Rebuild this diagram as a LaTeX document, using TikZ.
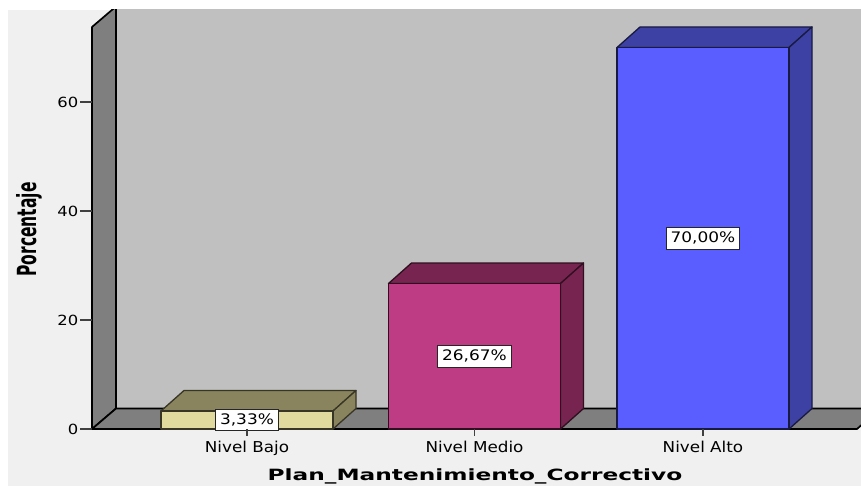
\documentclass[tikz,border=0pt]{standalone}
\usepackage{fontspec}
\setmainfont{DejaVu Sans}
\newfontfamily\lblfont[FakeStretch=1.17]{DejaVu Sans}
\newfontfamily\catfont[FakeStretch=1.12]{DejaVu Sans}
\newfontfamily\ttlfont[FakeStretch=1.5]{DejaVu Sans}
\newfontfamily\yfont{DejaVu Sans}

\definecolor{bgc}{HTML}{F0F0F0}
\definecolor{wallback}{HTML}{C0C0C0}
\definecolor{wallside}{HTML}{7F7F7F}
\definecolor{bajoF}{HTML}{E0DA9E}
\definecolor{bajoD}{HTML}{8A845E}
\definecolor{medioF}{HTML}{BD3C83}
\definecolor{medioD}{HTML}{772550}
\definecolor{altoF}{HTML}{5B5EFF}
\definecolor{altoD}{HTML}{3D41A3}
\definecolor{axisc}{HTML}{404040}

\tikzset{
  wallpart/.style={fill=wallside, draw=black, line width=1.7pt, line join=round},
  valbox/.style={fill=white, draw=black!85, line width=0.8pt, inner xsep=4.5pt,
    inner ysep=0pt, minimum height=21.5pt,
    font=\lblfont\fontsize{14.5}{16}\selectfont},
  ticklbl/.style={anchor=east, inner sep=0pt, text=black,
    font=\lblfont\fontsize{14}{16}\selectfont},
  catlbl/.style={anchor=base, inner sep=0pt, text=black,
    font=\catfont\fontsize{15}{17}\selectfont},
  tickline/.style={draw=axisc, line width=1.3pt},
}

% one 3-D column: centre x, top y, front colour, shade colour, label node name, label
\newcommand\chartcolumn[6]{%
  \pgfmathsetmacro\xl{#1-86}%
  \pgfmathsetmacro\xr{#1+86}%
  \filldraw[fill=#4, draw=#4!40!black, line width=1.3pt, line join=round]
    (\xl,#2) -- ++(23,-20.5) -- (\xr+23,#2-20.5) -- (\xr,#2) -- cycle;
  \filldraw[fill=#4, draw=#4!40!black, line width=1.3pt, line join=round]
    (\xr,#2) -- (\xr+23,#2-20.5) -- (\xr+23,408.5) -- (\xr,429) -- cycle;
  \filldraw[fill=#3, draw=#4!40!black, line width=1.3pt, line join=round]
    (\xl,#2) rectangle (\xr,429);
  \node[valbox] (#5) at (#1,{(#2+429)/2}) {#6};
}

\begin{document}
\begin{tikzpicture}[x=1pt,y=-1pt]
  \useasboundingbox (0,0) rectangle (861,486);
  \fill[white] (0,0) rectangle (861,486);
  \fill[bgc] (8,10) rectangle (861,486);

  \begin{scope}
    \clip (8,10) rectangle (861,486);
    % back wall
    \fill[wallback] (116,0) rectangle (870,408.5);
    % left wall and floor
    \filldraw[wallpart] (92,429) -- (92,27) -- (116,6.5) -- (116,408.5) -- cycle;
    \filldraw[wallpart] (92,429) -- (857,429) -- (880,408.5) -- (116,408.5) -- cycle;
  \end{scope}

  % value axis
  \foreach \v/\yy in {0/429,20/320,40/211,60/102}{
    \draw[tickline] (80,\yy) -- (92,\yy);
    \node[ticklbl] (tick\v) at (78.5,\yy) {\v};
  }

  % columns
  \chartcolumn{247}{411}{bajoF}{bajoD}{vbajo}{3,33\%}
  \chartcolumn{474.5}{283.5}{medioF}{medioD}{vmedio}{26,67\%}
  \chartcolumn{703}{47.5}{altoF}{altoD}{valto}{70,00\%}

  % category axis
  \foreach \cx/\nm/\txt in {247/bajo/Nivel Bajo,474.5/medio/Nivel Medio,703/alto/Nivel Alto}{
    \draw[tickline] (\cx,429) -- (\cx,436);
    \node[catlbl] (cat\nm) at (\cx,452) {\txt};
  }

  % axis titles
  \node[anchor=base, inner sep=0pt, font=\ttlfont\bfseries\fontsize{15.5}{17}\selectfont]
    (xtitle) at (475,480) {Plan\_Mantenimiento\_Correctivo};
  \node[rotate=90, anchor=base, inner sep=0pt, font=\yfont\bfseries\fontsize{15.5}{17}\selectfont]
    (ytitle) at (36,229.5) {\scalebox{1}[1.7]{Porcentaje}};
\end{tikzpicture}
\end{document}
